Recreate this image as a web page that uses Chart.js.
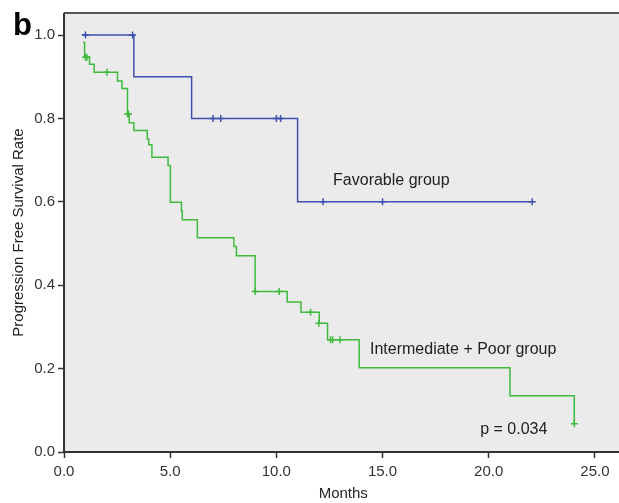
<!DOCTYPE html>
<html lang="en">
  <head>
    <meta charset="UTF-8" />
    <title>Progression free survival</title>
    <style>
      html, body { margin: 0; padding: 0; background: #fff; overflow: hidden; }
      #wrap { width: 628px; height: 503px; }
    </style>
  </head>
  <body>
    <div id="wrap">
      <canvas id="myChart" width="628" height="503"></canvas>
    </div>

    <script src="https://cdn.jsdelivr.net/npm/chart.js@4/dist/chart.umd.min.js"></script>
    <script>
      // Favorable group: step points (time, survival after that time)
      const favTimes = [0.84, 3.29, 6.01, 11.0, 22.05];
      const favSurv = [1.0, 0.9, 0.8, 0.6, 0.6];
      const favCensorTimes = [1.01, 3.23, 7.02, 7.38, 10.0, 10.2, 12.2, 15.0, 22.05];
      const favCensorSurv = [1.0, 1.0, 0.8, 0.8, 0.8, 0.8, 0.6, 0.6, 0.6];

      // Intermediate + Poor group
      const poorTimes = [0.89, 0.97, 1.2, 1.42, 2.52, 2.73, 2.99, 3.07, 3.29, 3.92, 3.99, 4.14,
        4.9, 5.01, 5.53, 5.57, 6.28, 8.0, 8.12, 9.0, 10.51, 11.16, 12.02, 12.41, 13.9, 21.0, 24.03];
      const poorSurv = [0.982, 0.947, 0.93, 0.911, 0.89, 0.872, 0.811, 0.79, 0.771, 0.751, 0.737, 0.707,
        0.687, 0.599, 0.578, 0.557, 0.514, 0.493, 0.471, 0.385, 0.36, 0.335, 0.309, 0.269, 0.202, 0.135, 0.0675];
      const poorCensorTimes = [1.01, 1.08, 2.02, 3.0, 3.03, 9.0, 10.13, 11.61, 12.0, 12.55, 12.65, 13.0, 24.03];
      const poorCensorSurv = [0.947, 0.947, 0.911, 0.811, 0.811, 0.385, 0.385, 0.335, 0.309, 0.269, 0.269, 0.269, 0.0675];

      const xTicks = [0, 5, 10, 15, 20, 25];
      const yTicks = [0, 0.2, 0.4, 0.6, 0.8, 1.0];

      // text notes placed in data coordinates
      const notes = [
        { text: "Favorable group", x: 12.67, y: 0.65 },
        { text: "Intermediate + Poor group", x: 14.41, y: 0.245 },
        { text: "p = 0.034", x: 19.6, y: 0.054 }
      ];

      const blue = "#3d50b0";
      const green = "#3fba3f";
      const fam = "'Liberation Sans', Arial, sans-serif";

      const toPoints = (xs, ys) => xs.map((x, i) => ({ x: x, y: ys[i] }));

      const framePlugin = {
        id: "frame",
        beforeDatasetsDraw(chart) {
          const { ctx, chartArea: a } = chart;
          ctx.save();
          ctx.fillStyle = "#ebebeb";
          ctx.fillRect(a.left, a.top, a.right - a.left, a.bottom - a.top);
          ctx.restore();
        },
        afterDraw(chart) {
          const { ctx, chartArea: a, scales } = chart;
          ctx.save();
          // top border
          ctx.strokeStyle = "#555";
          ctx.lineWidth = 2;
          ctx.beginPath();
          ctx.moveTo(a.left, a.top);
          ctx.lineTo(a.right, a.top);
          ctx.stroke();
          // axis lines
          ctx.strokeStyle = "#333";
          ctx.beginPath();
          ctx.moveTo(a.left, a.top);
          ctx.lineTo(a.left, a.bottom);
          ctx.lineTo(a.right, a.bottom);
          ctx.stroke();

          ctx.fillStyle = "#222";
          ctx.font = "16px " + fam;
          ctx.textBaseline = "middle";
          notes.forEach(n => {
            ctx.fillText(n.text, scales.x.getPixelForValue(n.x), scales.y.getPixelForValue(n.y));
          });

          ctx.font = "bold 31px " + fam;
          ctx.textBaseline = "alphabetic";
          ctx.fillStyle = "#000";
          ctx.fillText("b", 13, 35);
          ctx.restore();
        }
      };

      const ctx = document.getElementById("myChart").getContext("2d");
      const tickFont = { family: fam, size: 15 };

      new Chart(ctx, {
        type: "scatter",
        data: {
          datasets: [
            {
              data: toPoints(favTimes, favSurv),
              showLine: true,
              stepped: true,
              borderColor: blue,
              borderWidth: 1.5,
              pointRadius: 0
            },
            {
              data: toPoints(poorTimes, poorSurv),
              showLine: true,
              stepped: true,
              borderColor: green,
              borderWidth: 1.5,
              pointRadius: 0
            },
            {
              data: toPoints(favCensorTimes, favCensorSurv),
              showLine: false,
              pointStyle: "cross",
              pointRadius: 3.5,
              borderColor: blue,
              borderWidth: 1.5
            },
            {
              data: toPoints(poorCensorTimes, poorCensorSurv),
              showLine: false,
              pointStyle: "cross",
              pointRadius: 3.5,
              borderColor: green,
              borderWidth: 1.5
            }
          ]
        },
        options: {
          responsive: false,
          animation: false,
          layout: { padding: { top: 13, right: 0, left: 0, bottom: 0 } },
          plugins: { legend: { display: false }, tooltip: { enabled: false } },
          scales: {
            x: {
              type: "linear",
              min: 0,
              max: 26.3,
              afterFit: s => { s.height = 51; },
              afterBuildTicks: s => { s.ticks = xTicks.map(v => ({ value: v })); },
              grid: { drawOnChartArea: false, tickLength: 6, tickColor: "#333", tickWidth: 1.5 },
              border: { display: false },
              ticks: { color: "#333", font: tickFont, padding: 5, maxRotation: 0,
                callback: v => v.toFixed(1) },
              title: { display: true, text: "Months", color: "#222", font: tickFont, padding: { top: 0, bottom: 0 } }
            },
            y: {
              type: "linear",
              min: 0,
              max: 1.053,
              afterFit: s => { s.width = 64; },
              afterBuildTicks: s => { s.ticks = yTicks.map(v => ({ value: v })); },
              grid: { drawOnChartArea: false, tickLength: 6, tickColor: "#333", tickWidth: 1.5 },
              border: { display: false },
              ticks: { color: "#333", font: tickFont, padding: 3,
                callback: v => v.toFixed(1) },
              title: { display: true, text: "Progression Free Survival Rate", color: "#222", font: tickFont, padding: { top: 10, bottom: 0 } }
            }
          }
        },
        plugins: [framePlugin]
      });
    </script>
  </body>
</html>
